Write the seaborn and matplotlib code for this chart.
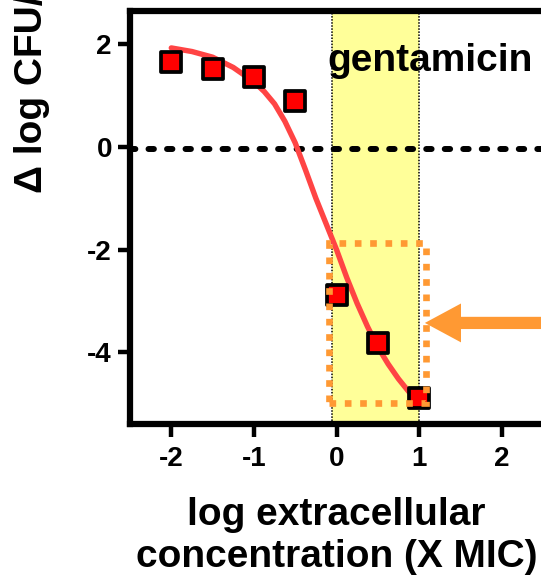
import seaborn as sns
import matplotlib.pyplot as plt
import pandas as pd
from matplotlib.patches import Rectangle

# measured points: log extracellular conc (X MIC) vs change in log CFU
conc = [-2, -1.5, -1, -0.5, 0, 0.5, 1]
delta_cfu = [1.65, 1.51, 1.37, 0.90, -2.88, -3.82, -4.89]

# fitted curve
fit_x = [-2, -1.75, -1.5, -1.25, -1.0, -0.875, -0.75, -0.625, -0.5, -0.375, -0.25,
         -0.125, 0, 0.125, 0.25, 0.375, 0.5, 0.625, 0.75, 0.875, 1.0]
fit_y = [1.93, 1.86, 1.75, 1.55, 1.27, 1.08, 0.84, 0.50, 0.08, -0.45, -1.0,
         -1.5, -2.0, -2.55, -3.05, -3.5, -3.9, -4.23, -4.52, -4.77, -4.97]

xticks = [-2, -1, 0, 1, 2]
yticks = [2, 0, -2, -4]

pts = pd.DataFrame({'conc': conc, 'dcfu': delta_cfu})
fit = pd.DataFrame({'conc': fit_x, 'dcfu': fit_y})

sns.set_style('white')
plt.rcParams['font.family'] = ['Liberation Sans', 'DejaVu Sans']
plt.rcParams['font.weight'] = 'bold'
plt.rcParams['axes.unicode_minus'] = False
for key in ['text.color', 'axes.labelcolor', 'xtick.color', 'ytick.color']:
    plt.rcParams[key] = 'black'

fig = plt.figure(figsize=(5.41, 5.76), dpi=100)
ax = fig.add_axes([130 / 541, 152 / 576, 413 / 541, 413 / 576])

# clinically relevant window
ax.axvspan(-0.05, 1.0, color='#FFFF99', zorder=0, lw=0)
for xv in (-0.05, 1.0):
    ax.axvline(xv, color='k', lw=1.1, ls=(0, (1, 1)), zorder=1.5)

ax.axhline(-0.04, color='k', lw=4.3, ls=(0, (0.9, 2.2)), dash_capstyle='round', zorder=2)

sns.lineplot(data=fit, x='conc', y='dcfu', color='#FF4444', lw=3.9, ax=ax, zorder=3)
sns.scatterplot(data=pts, x='conc', y='dcfu', marker='s', s=215, color='#FF0000',
                edgecolor='black', linewidth=2.7, ax=ax, zorder=4)

ax.add_patch(Rectangle((-0.09, -4.99), 1.17, 3.12, fill=False, edgecolor='#FF9933',
                       lw=4.8, ls=(0, (1, 1.3)), zorder=5))

ax.annotate('', xy=(1.07, -3.43), xytext=(3.3, -3.43), annotation_clip=False,
            arrowprops=dict(arrowstyle='simple,head_length=1.3,head_width=1.4,tail_width=0.44',
                            mutation_scale=20, color='#FF9933', lw=0,
                            shrinkA=0, shrinkB=0), zorder=6)

ax.text(-0.105, 1.48, 'gentamicin', fontsize=28, fontweight='bold', ha='left',
        va='baseline', zorder=1)

ax.set_xlim(-2.5, 2.5)
ax.set_ylim(-5.40, 2.65)
ax.set_xticks(xticks)
ax.set_yticks(yticks)
ax.tick_params(direction='out', length=9, width=3.2, labelsize=20,
               left=True, bottom=True)
ax.tick_params(axis='x', pad=7)
ax.tick_params(axis='y', pad=4)
for side in ['left', 'bottom', 'top', 'right']:
    ax.spines[side].set_linewidth(4.5)
    ax.spines[side].set_color('black')

ax.set_xlabel('log extracellular\nconcentration (X MIC)', fontsize=28,
              fontweight='bold', labelpad=18, linespacing=1.22)
ax.set_ylabel('')

fig.text(42 / 541, 383 / 576, 'Δ log CFU/mg prot.', fontsize=28, fontweight='bold',
         rotation=90, rotation_mode='anchor', ha='left', va='baseline')

fig.savefig('out.png', dpi=100)
